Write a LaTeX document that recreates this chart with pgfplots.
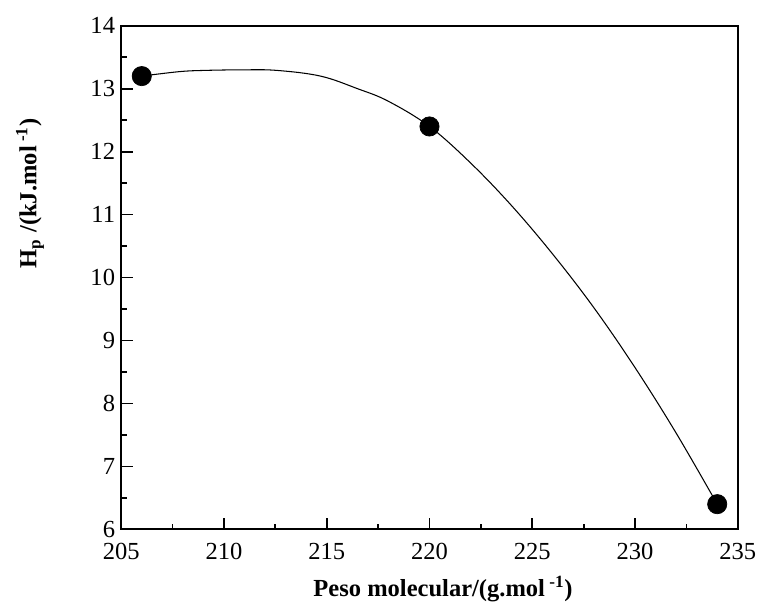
\documentclass[border=0pt]{standalone}
\usepackage{fontspec}
\setmainfont{Liberation Serif}
\usepackage{pgfplots}
\pgfplotsset{compat=1.18}
\begin{document}
\begin{tikzpicture}
\begin{axis}[name=ax, scale only axis, width=352pt, height=287.5pt,
  xmin=205, xmax=235, ymin=6, ymax=14,
  xtick={205,210,...,235}, ytick={6,7,...,14},
  minor x tick num=1, minor y tick num=1,
  xtick pos=bottom, ytick pos=left, tick align=inside,
  major tick length=6.5pt, minor tick length=3.2pt,
  axis line style={line width=1.1pt}, every tick/.style={line width=1pt, black},
  font=\fontsize{14}{16}\selectfont,
  /pgf/number format/assume math mode=true,
  /pgf/number format/set thousands separator={},
  xticklabel style={yshift=-4.5pt},
  xlabel={\textbf{Peso molecular/(g.mol\textsuperscript{ -1})}},
  ylabel={\textbf{H\textsubscript{p} /(kJ.mol\textsuperscript{ -1})}},
  xlabel style={at={(axis description cs:0.522,-0.118)}, anchor=center},
  ylabel style={at={(axis description cs:-0.148,0.667)}, anchor=center}]
\addplot[black, line width=0.6pt, smooth, tension=0.6] coordinates {
  (206,13.2)(207.8,13.27)(209,13.29)(211,13.30)(212.6,13.29)(214.7,13.20)
  (216.5,13.0)(218,12.8)(220,12.4)(222,11.82)(224,11.14)(226,10.37)
  (228,9.52)(230,8.57)(232,7.53)(234,6.4)};
\addplot[only marks, mark=*, mark size=5.5pt, black] coordinates {
  (206,13.2)(220,12.4)(234,6.4)};
\end{axis}
\path ([shift={(-69.2pt,-48.8pt)}]ax.south west) rectangle ([shift={(10.8pt,14.7pt)}]ax.north east);
\end{tikzpicture}
\end{document}
